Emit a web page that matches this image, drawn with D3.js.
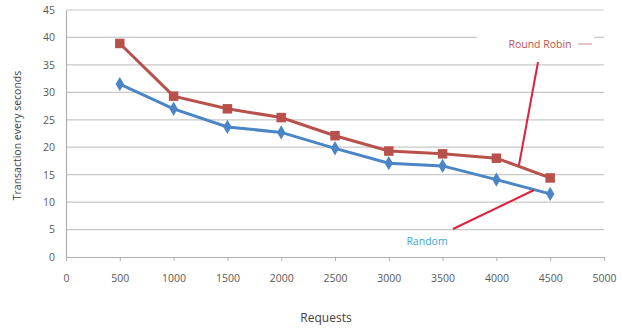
<!DOCTYPE html>
<html>
<head>
<meta charset="utf-8">
<script src="https://cdn.jsdelivr.net/npm/d3@7"></script>
<style>
  body { margin: 0; background: #fff; }
  text { font-family: 'Open Sans', sans-serif; }
</style>
</head>
<body>
<div id="chart"></div>
<script>
const requests = [500, 1000, 1500, 2000, 2500, 3000, 3500, 4000, 4500]
const roundRobin = [38.9, 29.3, 27.0, 25.4, 22.1, 19.3, 18.8, 18.0, 14.4]
const random = [31.5, 27.0, 23.7, 22.7, 19.8, 17.1, 16.6, 14.1, 11.5]
const xTicks = [0, 500, 1000, 1500, 2000, 2500, 3000, 3500, 4000, 4500, 5000]
const yTicks = [0, 5, 10, 15, 20, 25, 30, 35, 40, 45]

const W = 622, H = 329
const svg = d3.select('#chart').append('svg')
  .attr('width', W)
  .attr('height', H)

const x = d3.scaleLinear().domain([0, 5000]).range([66, 604])
const y = d3.scaleLinear().domain([0, 45]).range([257, 10])

// gridlines
svg.append('g')
  .selectAll('line')
  .data(yTicks.filter(d => d > 0))
  .join('line')
  .attr('x1', x(0)).attr('x2', x(5000))
  .attr('y1', d => y(d)).attr('y2', d => y(d))
  .attr('stroke', '#c8c8c8')
  .attr('stroke-width', 1.2)

const xAxis = svg.append('g')
  .attr('transform', `translate(0,${y(0)})`)
  .call(d3.axisBottom(x).tickValues(xTicks).tickFormat(d3.format('d'))
    .tickSize(4).tickSizeOuter(0).tickPadding(14))
const yAxis = svg.append('g')
  .attr('transform', `translate(${x(0)},0)`)
  .call(d3.axisLeft(y).tickValues(yTicks).tickSize(4).tickSizeOuter(0).tickPadding(7))

;[xAxis, yAxis].forEach(a => {
  a.select('.domain').attr('stroke', '#b0b0b0').attr('stroke-width', 1.2)
  a.selectAll('.tick line').attr('stroke', '#b0b0b0')
  a.selectAll('.tick text').attr('fill', '#595959').style('font-size', '10.5px')
    .style('font-family', "'Open Sans', sans-serif")
})
yAxis.selectAll('.tick line').attr('stroke', 'none')

// axis titles
svg.append('text')
  .attr('transform', `translate(21,${(y(0) + y(45)) / 2 + 2}) rotate(-90)`)
  .attr('text-anchor', 'middle')
  .attr('fill', '#404040')
  .style('font-size', '10.5px')
  .text('Transaction every seconds')
svg.append('text')
  .attr('x', 326).attr('y', 322)
  .attr('text-anchor', 'middle')
  .attr('fill', '#404040')
  .style('font-size', '12px')
  .text('Requests')

const line = d3.line()
  .x((d, i) => x(requests[i]))
  .y(d => y(d))

const series = [
  { values: roundRobin, color: '#b8504c', shape: d3.symbolSquare, size: 90 },
  { values: random, color: '#4a86c5', shape: d3.symbolDiamond, size: 60 }
]

series.forEach(s => {
  svg.append('path')
    .datum(s.values)
    .attr('d', line)
    .attr('fill', 'none')
    .attr('stroke', s.color)
    .attr('stroke-width', 3)
  svg.append('g')
    .selectAll('path')
    .data(s.values)
    .join('path')
    .attr('d', d3.symbol().type(s.shape).size(s.size))
    .attr('transform', (d, i) => `translate(${x(requests[i])},${y(d)})`)
    .attr('fill', s.color)
})

// annotations
svg.append('rect')
  .attr('x', 477).attr('y', 31).attr('width', 117).attr('height', 18)
  .attr('fill', '#fff')
svg.append('text')
  .attr('x', 540).attr('y', 48)
  .attr('text-anchor', 'middle')
  .attr('fill', '#c0504d')
  .style('font-size', '10.5px')
  .text('Round Robin')
svg.append('line')
  .attr('x1', 578).attr('x2', 592).attr('y1', 44).attr('y2', 44)
  .attr('stroke', '#c88a88').attr('stroke-width', 1)
svg.append('line')
  .attr('x1', 538).attr('y1', 62).attr('x2', 519).attr('y2', 165)
  .attr('stroke', '#e0203c').attr('stroke-width', 2)
svg.append('text')
  .attr('x', 427).attr('y', 245)
  .attr('text-anchor', 'middle')
  .attr('fill', '#3aa6dc')
  .style('font-size', '10.5px')
  .text('Random')
svg.append('line')
  .attr('x1', 453).attr('y1', 229).attr('x2', 534).attr('y2', 190)
  .attr('stroke', '#e0203c').attr('stroke-width', 2)
</script>
</body>
</html>
